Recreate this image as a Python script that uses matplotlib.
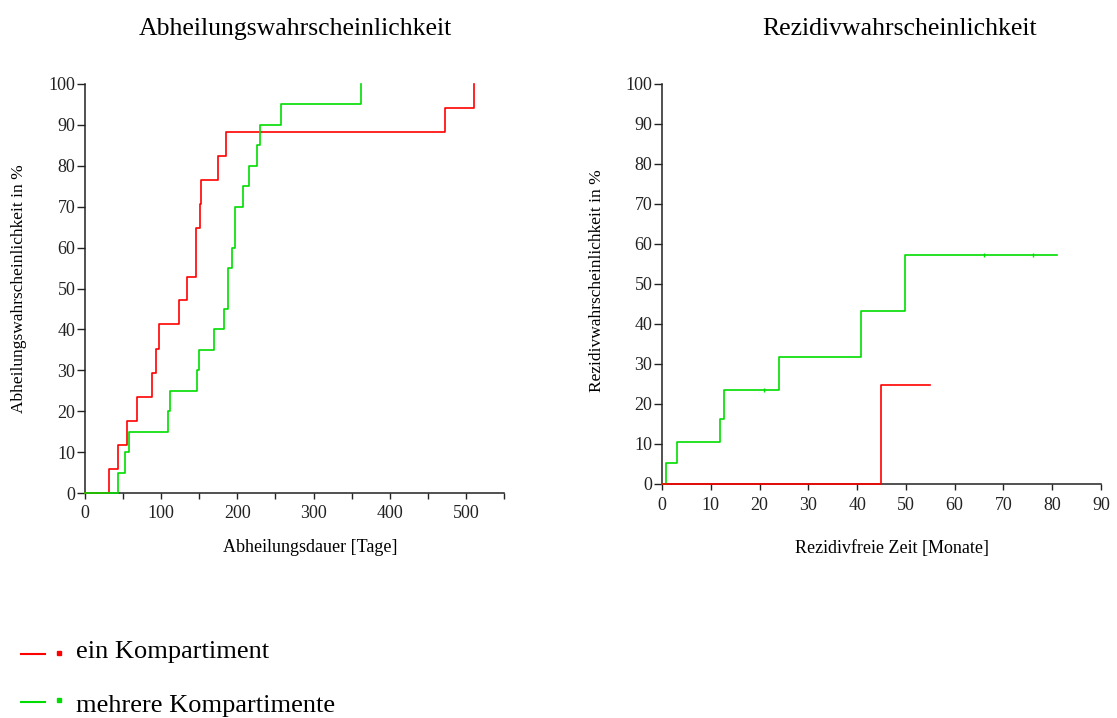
import numpy as np
import matplotlib.pyplot as plt
from matplotlib.lines import Line2D
from matplotlib.ticker import MultipleLocator

plt.rcParams.update({
    "font.family": "Liberation Serif",
    "font.size": 13,
    "axes.linewidth": 1.1,
    "axes.edgecolor": "#222222",
    "xtick.color": "#222222",
    "ytick.color": "#222222",
})

RED = "#ff0000"
GREEN = "#00dd00"

# --------------- DATA -------------------------------------------------------
# Abheilung (days, cumulative %)
heal_red_t = [0, 32, 43.9, 55.7, 68.4, 88.6, 93, 97, 123.7, 133.8, 145.2, 146,
              150.4, 151.8, 174.6, 184.6, 472.8, 510]
heal_red_p = [0, 5.9, 11.8, 17.6, 23.5, 29.4, 35.3, 41.2, 47.1, 52.9, 58.8, 64.7,
              70.6, 76.5, 82.4, 88.2, 94.1, 100]
heal_green_t = [0, 43.9, 52.2, 57.5, 108.8, 111.4, 147.4, 150, 169.7, 182.9,
                188.2, 193.4, 196.5, 207.5, 215.8, 225.9, 229.4, 257, 361.8]
heal_green_p = [0, 5, 10, 15, 20, 25, 30, 35, 40, 45, 55, 60, 70, 75, 80, 85,
                90, 95, 100]

# Rezidiv (months, cumulative %)
rec_red_t = [0, 44.9, 55]
rec_red_p = [0, 24.8, 24.8]
rec_green_t = [0, 0.8, 3.0, 11.9, 12.7, 24.0, 40.8, 49.8, 81]
rec_green_p = [0, 5.2, 10.4, 16.3, 23.4, 31.7, 43.3, 57.3, 57.3]
rec_green_cens_t = [21, 66, 76]
rec_green_cens_p = [23.4, 57.3, 57.3]

labels = ["ein Kompartiment", "mehrere Kompartimente"]

# --------------- FIGURE -----------------------------------------------------
W, H = 1117, 718
fig = plt.figure(figsize=(W / 100, H / 100), dpi=100)


def px(x0, y0, x1, y1):
    return [x0 / W, 1 - y1 / H, (x1 - x0) / W, (y1 - y0) / H]


ax1 = fig.add_axes(px(85, 84, 504, 493))
ax2 = fig.add_axes(px(662, 84, 1101, 484))

for ax in (ax1, ax2):
    ax.spines["top"].set_visible(False)
    ax.spines["right"].set_visible(False)
    ax.set_ylim(0, 100)
    ax.yaxis.set_major_locator(MultipleLocator(10))
    ax.tick_params(axis="y", direction="out", length=6, width=1, pad=1)
    ax.tick_params(axis="x", direction="out", length=4, width=1, pad=5)

# left panel
ax1.step(heal_red_t, heal_red_p, where="post", color=RED, lw=1.2, clip_on=False, zorder=3)
ax1.step(heal_green_t, heal_green_p, where="post", color=GREEN, lw=1.2, clip_on=False, zorder=4)
ax1.set_xlim(0, 550)
ax1.xaxis.set_major_locator(MultipleLocator(100))
ax1.xaxis.set_minor_locator(MultipleLocator(50))
ax1.tick_params(axis="x", which="minor", direction="out", length=4, width=1)

# right panel
ax2.step(rec_green_t, rec_green_p, where="post", color=GREEN, lw=1.2, clip_on=False, zorder=3)
ax2.plot(rec_green_cens_t, rec_green_cens_p, ls="none", marker="|", ms=3,
         color=GREEN, clip_on=False, zorder=3)
ax2.step(rec_red_t, rec_red_p, where="post", color=RED, lw=1.2, clip_on=False, zorder=4)
ax2.set_xlim(0, 90)
ax2.xaxis.set_major_locator(MultipleLocator(10))

# texts
fig.text(295 / W, 1 - 29 / H, "Abheilungswahrscheinlichkeit", ha="center", va="center", fontsize=18.5)
fig.text(900 / W, 1 - 29 / H, "Rezidivwahrscheinlichkeit", ha="center", va="center", fontsize=18.5)
fig.text(310 / W, 1 - 548 / H, "Abheilungsdauer [Tage]", ha="center", va="center", fontsize=13)
fig.text(892 / W, 1 - 548 / H, "Rezidivfreie Zeit [Monate]", ha="center", va="center", fontsize=13)
fig.text(19 / W, 1 - 289 / H, "Abheilungswahrscheinlichkeit in %", ha="center", va="center",
         rotation=90, fontsize=12.5)
fig.text(597 / W, 1 - 281 / H, "Rezidivwahrscheinlichkeit in %", ha="center", va="center",
         rotation=90, fontsize=12.5)

# legend
leg_y = [(654, 653, 652), (702, 700, 706)]
for (yl, yd, yt), lab, col in zip(leg_y, labels, [RED, GREEN]):
    fig.add_artist(Line2D([21 / W, 45 / W], [1 - yl / H, 1 - yl / H], color=col, lw=1.5))
    fig.add_artist(Line2D([58.5 / W], [1 - yd / H], color=col, marker="s", ms=2.5, ls="none"))
    fig.text(76 / W, 1 - yt / H, lab, ha="left", va="center", fontsize=19)

fig.savefig("out.png", dpi=100, facecolor="white")
